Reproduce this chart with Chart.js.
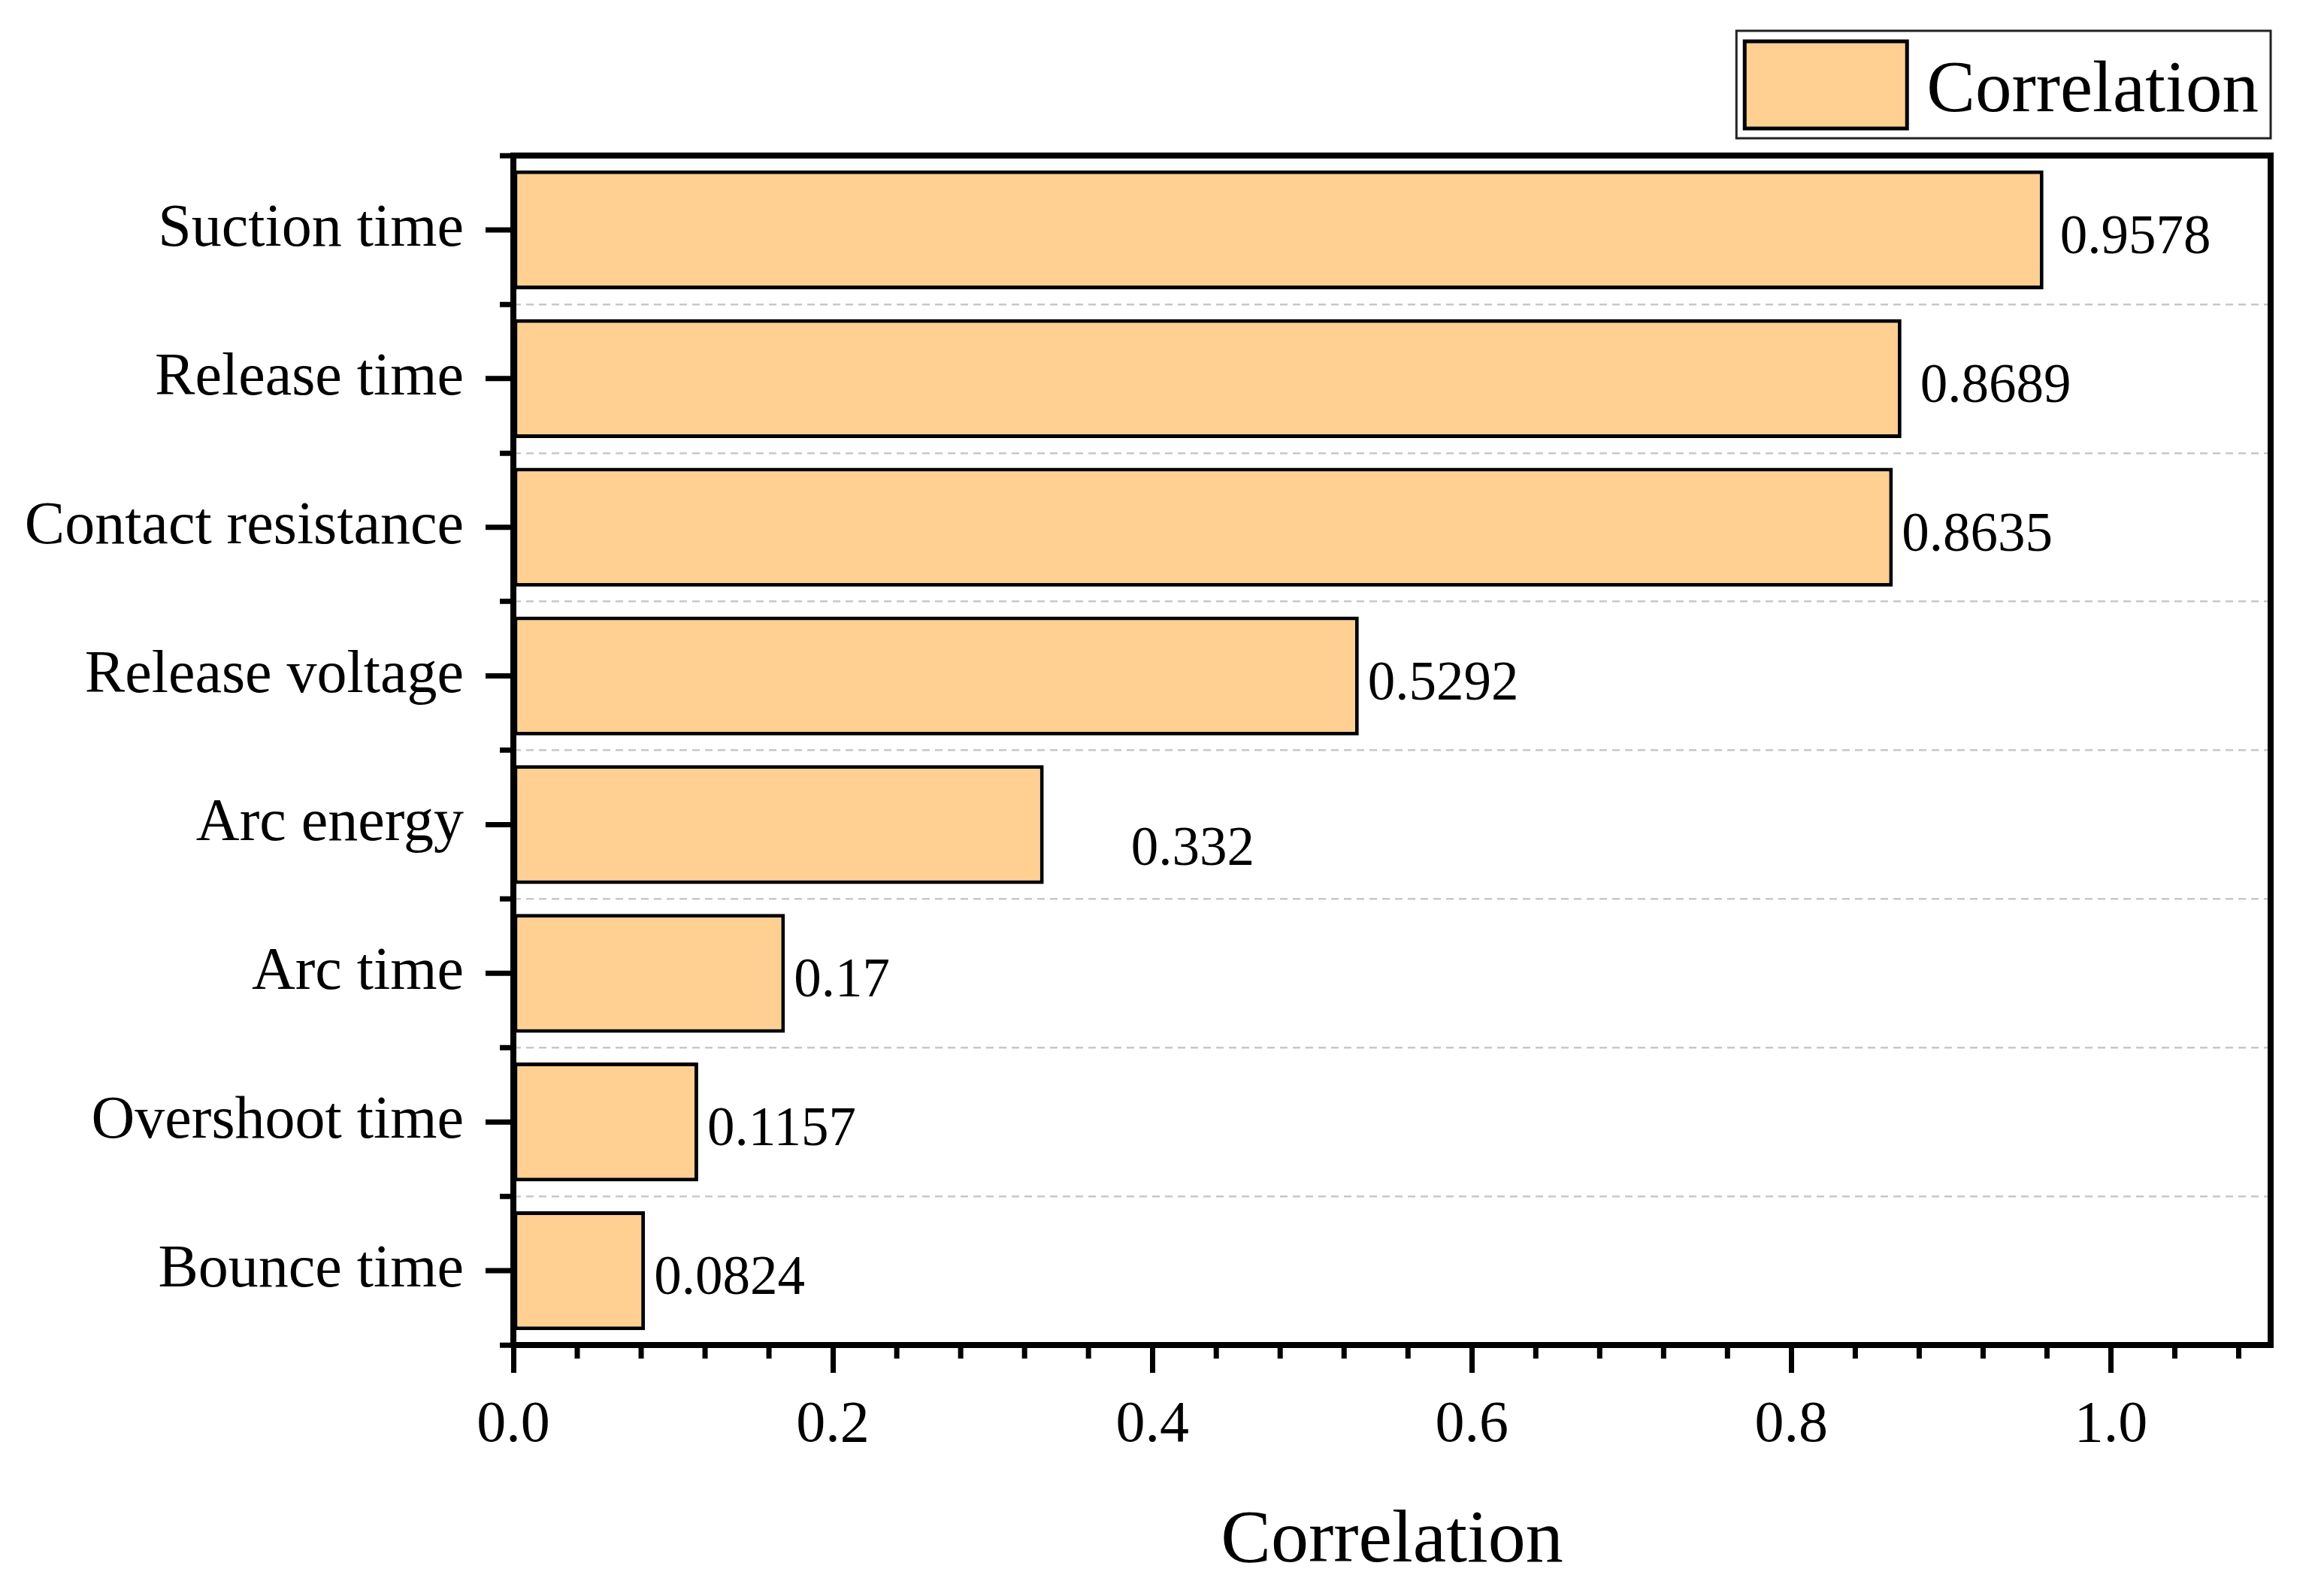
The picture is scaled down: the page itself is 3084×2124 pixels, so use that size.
<!DOCTYPE html>
<html>
<head>
<meta charset="utf-8">
<title>Correlation</title>
<script src="https://cdn.jsdelivr.net/npm/chart.js@4"></script>
<style>
  html, body { margin: 0; padding: 0; background: #fff; }
  #wrap { width: 3084px; height: 2124px; position: relative; }
</style>
</head>
<body>
<div id="wrap"><canvas id="corrChart"></canvas></div>
<script>
// data
const features = ['Suction time', 'Release time', 'Contact resistance', 'Release voltage',
                  'Arc energy', 'Arc time', 'Overshoot time', 'Bounce time'];
const correlation = [0.9578, 0.8689, 0.8635, 0.5292, 0.332, 0.17, 0.1157, 0.0824];
const xMajorTicks = [0, 0.2, 0.4, 0.6, 0.8, 1.0];
const xMinorStep = 0.04;
const xMax = 1.1;

const FONT = "'Liberation Serif', 'Times New Roman', serif";
const BAR_FILL = '#FFD092';
const INK = '#000000';

// value labels sit just right of each bar; a few are shifted like in the original
const labelNudge = { 0: [10, 0], 1: [13, 0], 4: [104, 22] };

const frameAndTicks = {
    id: 'frameAndTicks',
    afterDatasetsDraw(chart) {
        const ctx = chart.ctx;
        const ca = chart.chartArea;
        const x = chart.scales.x;
        const y = chart.scales.y;
        ctx.save();
        ctx.strokeStyle = INK;
        ctx.lineCap = 'butt';

        // major ticks on the category centres
        ctx.lineWidth = 7;
        features.forEach((f, i) => {
            const py = y.getPixelForValue(i);
            ctx.beginPath();
            ctx.moveTo(ca.left - 37, py);
            ctx.lineTo(ca.left, py);
            ctx.stroke();
        });

        // minor x ticks
        for (let k = 1; k * xMinorStep < xMax; k++) {
            if (k % 5 === 0) continue;
            const px = x.getPixelForValue(k * xMinorStep);
            ctx.beginPath();
            ctx.moveTo(px, ca.bottom);
            ctx.lineTo(px, ca.bottom + 18);
            ctx.stroke();
        }

        // frame
        ctx.lineWidth = 8;
        ctx.strokeRect(ca.left, ca.top, ca.right - ca.left, ca.bottom - ca.top);

        // value labels
        const meta = chart.getDatasetMeta(0);
        const values = chart.data.datasets[0].data;
        ctx.fillStyle = INK;
        ctx.font = '73px ' + FONT;
        ctx.textAlign = 'left';
        ctx.textBaseline = 'middle';
        meta.data.forEach((bar, i) => {
            const [dx, dy] = labelNudge[i] || [0, 0];
            ctx.fillText(String(values[i]), bar.x + 12 + dx, bar.y + 12 + dy);
        });
        ctx.restore();
    },
    afterDraw(chart) {
        // boxed legend above the top right corner of the plot
        const ctx = chart.ctx;
        const ca = chart.chartArea;
        const ds = chart.data.datasets[0];
        ctx.save();
        ctx.font = '97px ' + FONT;
        const textW = ctx.measureText(ds.label).width;
        const boxW = 11 + 216 + 26 + textW + 16;
        const left = ca.right - boxW;
        const top = ca.top - 166;
        ctx.lineWidth = 3;
        ctx.strokeStyle = '#222';
        ctx.strokeRect(left, top, boxW, 143);

        ctx.fillStyle = ds.backgroundColor;
        ctx.fillRect(left + 11, top + 14, 216, 116);
        ctx.lineWidth = 5;
        ctx.strokeStyle = INK;
        ctx.strokeRect(left + 11, top + 14, 216, 116);

        ctx.fillStyle = INK;
        ctx.textAlign = 'left';
        ctx.textBaseline = 'alphabetic';
        ctx.fillText(ds.label, left + 11 + 216 + 26, top + 107);
        ctx.restore();
    }
};

new Chart(document.getElementById('corrChart'), {
    type: 'bar',
    data: {
        labels: features,
        datasets: [{
            label: 'Correlation',
            data: correlation,
            backgroundColor: BAR_FILL,
            borderColor: INK,
            borderWidth: 5,
            borderSkipped: false,
            barPercentage: 0.8,
            categoryPercentage: 1.0
        }]
    },
    options: {
        indexAxis: 'y',
        responsive: true,
        maintainAspectRatio: false,
        devicePixelRatio: 1,
        animation: false,
        layout: { padding: { top: 207, right: 63, left: 0, bottom: 0 } },
        plugins: {
            legend: { display: false },
            tooltip: { enabled: false }
        },
        scales: {
            x: {
                type: 'linear',
                min: 0,
                max: xMax,
                afterFit: (scale) => { scale.height = 334; },
                afterBuildTicks: (scale) => { scale.ticks = xMajorTicks.map(v => ({ value: v })); },
                ticks: {
                    callback: (v) => Number(v).toFixed(1),
                    color: INK,
                    font: { family: FONT, size: 78 },
                    padding: 24,
                    maxRotation: 0
                },
                grid: {
                    drawOnChartArea: false,
                    drawTicks: true,
                    tickLength: 37,
                    tickWidth: 7,
                    tickColor: INK
                },
                border: { display: false },
                title: {
                    display: true,
                    text: 'Correlation',
                    color: INK,
                    font: { family: FONT, size: 100 },
                    padding: { top: 0, bottom: 12 }
                }
            },
            y: {
                afterFit: (scale) => { scale.width = 683; },
                ticks: {
                    color: INK,
                    font: { family: FONT, size: 80 },
                    padding: 48
                },
                grid: {
                    offset: true,
                    color: '#c8c8c8',
                    lineWidth: 2.5,
                    drawTicks: true,
                    tickLength: 18,
                    tickWidth: 7,
                    tickColor: INK
                },
                border: { display: false, dash: [10, 7] }
            }
        }
    },
    plugins: [frameAndTicks]
});
</script>
</body>
</html>
